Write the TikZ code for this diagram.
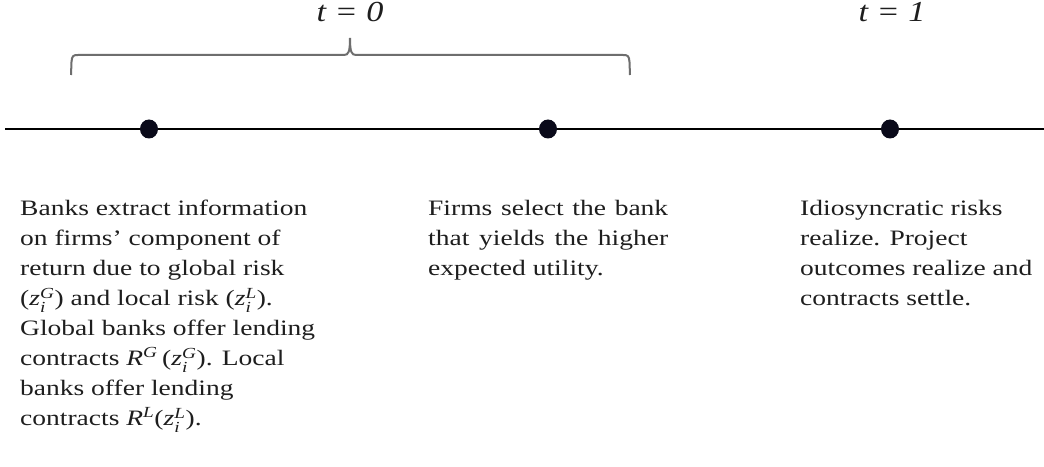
\documentclass[tikz,border=0pt]{standalone}
\usepackage{amsmath}
\usepackage{graphicx}
\usepackage{fontspec}
\setmainfont{Liberation Serif}
\newcommand\zvar[2]{\textit{z}_{\textit{#1}}^{\textit{#2}}}
\definecolor{bracegray}{HTML}{6E6E6E}
\definecolor{dotcol}{HTML}{0A0A1A}
\definecolor{txt}{HTML}{1E1E1E}
\tikzset{
  tline/.style={line width=2bp, black},
  tdot/.style={ellipse, fill=dotcol, minimum width=18bp, minimum height=19bp, inner sep=0pt},
  bracepath/.style={line width=2bp, bracegray},
  bodytext/.style={anchor=base west, inner sep=0pt, text=txt, font=\fontsize{22bp}{30bp}\selectfont},
  timelabel/.style={anchor=base, inner sep=0pt, text=txt, font=\fontsize{29bp}{32bp}\selectfont\itshape}
}
\usetikzlibrary{shapes.geometric}
\begin{document}
\begin{tikzpicture}[x=1bp,y=-1bp]
\useasboundingbox (0,0) rectangle (1044,467);
\fill[white] (0,0) rectangle (1044,467);
% timeline
\coordinate (L) at (5,129);
\coordinate (R) at (1044,129);
\draw[tline] (L) -- (R);
\node[tdot] (d1) at (149,129) {};
\node[tdot] (d2) at (548,129) {};
\node[tdot] (d3) at (890,129) {};
% brace
\draw[bracepath] (71,75) -- (71.5,62) .. controls (72,56) and (73,55) .. (78,55)
  -- (344,55) .. controls (348.5,55) and (350,52) .. (350,38)
  .. controls (350,52) and (351.5,55) .. (356,55)
  -- (623,55) .. controls (628,55) and (629,56) .. (629.5,62) -- (630,75);
% time labels
\node[timelabel] (t0) at (350,22) {\scalebox{1.18}[1]{t = 0}};
\node[timelabel] (t1) at (892,22) {\scalebox{1.18}[1]{t = 1}};
% texts
\node[bodytext] (txa) at (20,216) {\scalebox{1.25}[1]{\parbox[t]{250bp}{\raggedright
Banks extract information\\
on firms’ component of\\
return due to global risk\\
($\zvar{i}{G}$) and local risk ($\zvar{i}{L}$).\\
Global banks offer lending\\
contracts $\textit{R}^{\textit{G}}$\,($\zvar{i}{G}$). Local\\
banks offer lending\\
contracts $\textit{R}^{\textit{L}}$($\zvar{i}{L}$).}}};
\node[bodytext] (txb) at (428,216) {\scalebox{1.25}[1]{\parbox[t]{192bp}{\parindent=0pt
Firms select the bank\linebreak
that yields the higher\linebreak
expected utility.}}};
\node[bodytext] (txc) at (800,216) {\scalebox{1.25}[1]{\parbox[t]{200bp}{\raggedright
Idiosyncratic risks\\
realize. Project\\
outcomes realize and\\
contracts settle.}}};
\end{tikzpicture}
\end{document}
